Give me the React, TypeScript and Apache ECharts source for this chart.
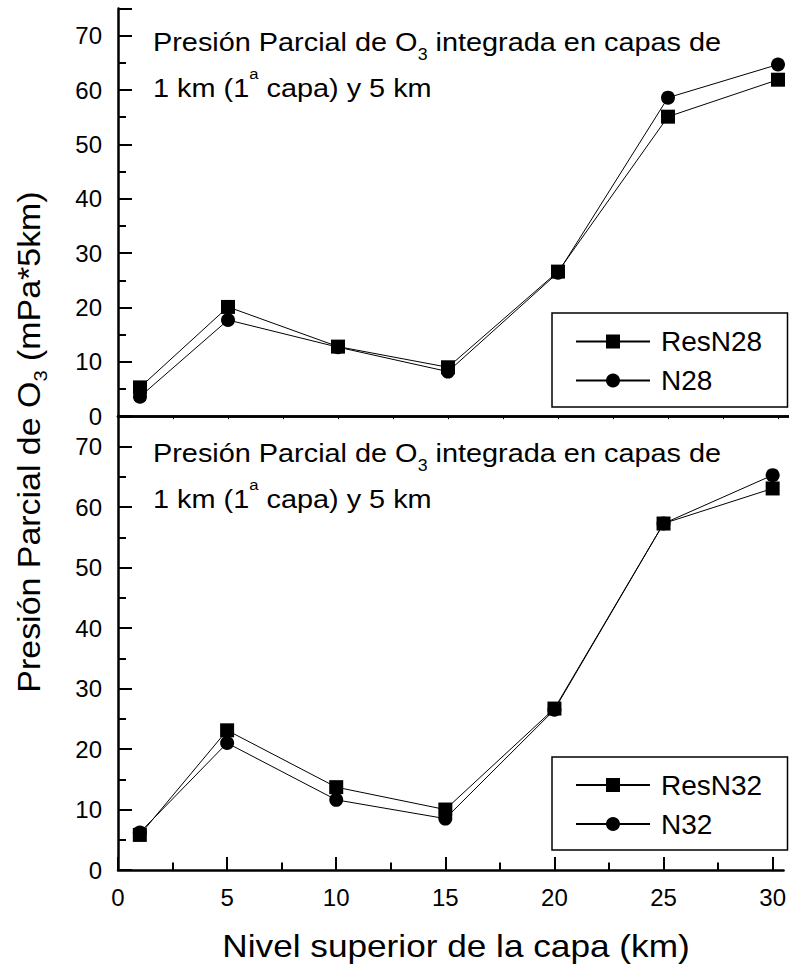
import React, { useEffect, useRef } from "react";
import * as echarts from "echarts";

const xLevels = [1, 5, 10, 15, 20, 25, 30];
const resN28 = [5.3, 20.1, 12.8, 9.0, 26.6, 55.1, 61.9];
const n28 = [3.6, 17.7, 12.7, 8.2, 26.4, 58.6, 64.7];
const resN32 = [5.8, 23.1, 13.7, 10.0, 26.7, 57.3, 63.1];
const n32 = [6.2, 21.0, 11.6, 8.5, 26.5, 57.3, 65.3];

const xMajorTicks = [0, 5, 10, 15, 20, 25, 30];
const xMinorTicks = [2.5, 7.5, 12.5, 17.5, 22.5, 27.5];
const legendTop = ["ResN28", "N28"];
const legendBottom = ["ResN32", "N32"];

const FONT = "'Liberation Sans', Arial, Helvetica, sans-serif";

const pairs = (ys: number[]) => xLevels.map((x, i) => [x, ys[i]]);

export default function App() {
  const ref = useRef<HTMLDivElement>(null);
  useEffect(() => {
    if (!ref.current) return;
    const chart = echarts.init(ref.current, undefined, { renderer: "svg" });
    const axisLine = { show: true, lineStyle: { color: "#000", width: 2.5 } };
    const yMajor = (gridIndex: number) => ({
      type: "value",
      gridIndex,
      position: "left",
      min: 0,
      max: 75,
      interval: 10,
      axisLine,
      axisTick: { show: true, inside: true, length: 14, lineStyle: { color: "#000", width: 2 } },
      axisLabel: {
        show: true,
        margin: 16,
        fontSize: 24,
        color: "#000",
        fontFamily: FONT,
        formatter: (v: number) => (v % 10 === 0 ? String(v) : ""),
      },
      splitLine: { show: false },
    });
    const yMinor = (gridIndex: number) => ({
      type: "value",
      gridIndex,
      position: "left",
      min: 0,
      max: 75,
      interval: 5,
      axisLine: { show: false },
      axisTick: { show: true, inside: true, length: 8, lineStyle: { color: "#000", width: 2 } },
      axisLabel: { show: false },
      splitLine: { show: false },
    });
    const seriesStyle = (
      name: string,
      data: number[],
      symbol: string,
      xi: number,
      yi: number
    ) => ({
      type: "line",
      name,
      data: pairs(data),
      xAxisIndex: xi,
      yAxisIndex: yi,
      symbol,
      symbolSize: 14,
      showAllSymbol: true,
      color: "#000",
      itemStyle: { color: "#000" },
      lineStyle: { color: "#000", width: 1 },
    });
    const legend = (data: string[], top: number) => ({
      data,
      orient: "vertical",
      left: 575,
      top,
      padding: 0,
      itemWidth: 74,
      itemHeight: 17.5,
      itemGap: 11,
      selectedMode: false,
      textStyle: { fontSize: 28, color: "#000", fontFamily: FONT, padding: [0, 0, 0, 6] },
    });
    const annot = (y: number) => [
      {
        type: "text",
        x: 153,
        y,
        scaleX: 1.11,
        style: {
          text: "Presión Parcial de O{sub|3} integrada en capas de",
          fontSize: 26,
          fontFamily: FONT,
          fill: "#000",
          align: "left",
          verticalAlign: "middle",
          rich: { sub: { fontSize: 16, fontFamily: FONT, fill: "#000", padding: [24, 0, 0, 0] } },
        },
      },
      {
        type: "text",
        x: 153,
        y: y + 45.5,
        scaleX: 1.11,
        style: {
          text: "1 km (1{sup|a} capa) y 5 km",
          fontSize: 26,
          fontFamily: FONT,
          fill: "#000",
          align: "left",
          verticalAlign: "middle",
          rich: { sup: { fontSize: 15, fontFamily: FONT, fill: "#000", padding: [0, 0, 28, 0] } },
        },
      },
    ];
    chart.setOption({
      animation: false,
      backgroundColor: "#fff",
      grid: [
        { left: 118, top: 8.5, width: 671, height: 407.7 },
        { left: 118, top: 416.5, width: 671, height: 453.5 },
      ],
      xAxis: [
        {
          type: "value",
          gridIndex: 0,
          position: "bottom",
          min: 0,
          max: 30.5,
          axisLine,
          axisTick: { show: false },
          axisLabel: { show: false },
          splitLine: { show: false },
        },
        {
          type: "value",
          gridIndex: 0,
          position: "top",
          min: 0,
          max: 30.5,
          interval: 2.5,
          axisLine,
          axisTick: { show: true, inside: true, length: 3, lineStyle: { color: "#000", width: 1 } },
          axisLabel: { show: false },
          splitLine: { show: false },
        },
        {
          type: "value",
          gridIndex: 1,
          position: "bottom",
          min: 0,
          max: 30.5,
          interval: 5,
          axisLine,
          axisTick: {
            show: true,
            inside: true,
            length: 13,
            customValues: xMajorTicks,
            lineStyle: { color: "#000", width: 2 },
          },
          axisLabel: {
            show: true,
            customValues: xMajorTicks,
            margin: 15,
            fontSize: 24,
            color: "#000",
            fontFamily: FONT,
            formatter: (v: number) => (v % 5 === 0 ? String(v) : ""),
          },
          splitLine: { show: false },
        },
        {
          type: "value",
          gridIndex: 1,
          position: "bottom",
          min: 0,
          max: 30.5,
          interval: 2.5,
          axisLine: { show: false },
          axisTick: {
            show: true,
            inside: true,
            length: 7.5,
            customValues: xMinorTicks,
            lineStyle: { color: "#000", width: 2 },
          },
          axisLabel: { show: false },
          splitLine: { show: false },
        },
      ],
      yAxis: [yMajor(0), yMinor(0), yMajor(1), yMinor(1)],
      legend: [legend(legendTop, 327.5), legend(legendBottom, 771)],
      series: [
        seriesStyle("N28", n28, "circle", 0, 0),
        seriesStyle("ResN28", resN28, "rect", 0, 0),
        seriesStyle("N32", n32, "circle", 2, 2),
        seriesStyle("ResN32", resN32, "rect", 2, 2),
      ],
      graphic: [
        {
          type: "rect",
          shape: { x: 552, y: 313, width: 235.5, height: 94 },
          style: { fill: "none", stroke: "#000", lineWidth: 1.5 },
          z: 10,
        },
        {
          type: "rect",
          shape: { x: 552, y: 757, width: 235.5, height: 93 },
          style: { fill: "none", stroke: "#000", lineWidth: 1.5 },
          z: 10,
        },
        ...annot(42.5),
        ...annot(453.5),
        {
          type: "text",
          x: 456,
          y: 946,
          scaleX: 1.1,
          style: {
            text: "Nivel superior de la capa (km)",
            fontSize: 32,
            fontFamily: FONT,
            fill: "#000",
            align: "center",
            verticalAlign: "middle",
          },
        },
        {
          type: "text",
          x: 29,
          y: 442,
          rotation: Math.PI / 2,
          scaleX: 1.06,
          style: {
            text: "Presión Parcial de O{sub|3} (mPa*5km)",
            fontSize: 32,
            fontFamily: FONT,
            fill: "#000",
            align: "center",
            verticalAlign: "middle",
            rich: { sub: { fontSize: 19, fontFamily: FONT, fill: "#000", padding: [22, 0, 0, 0] } },
          },
        },
      ],
    });
    return () => chart.dispose();
  }, []);
  return (
    <div
      ref={ref}
      style={{ position: "fixed", left: 0, top: 0, width: 789, height: 965, background: "#fff" }}
    />
  );
}
